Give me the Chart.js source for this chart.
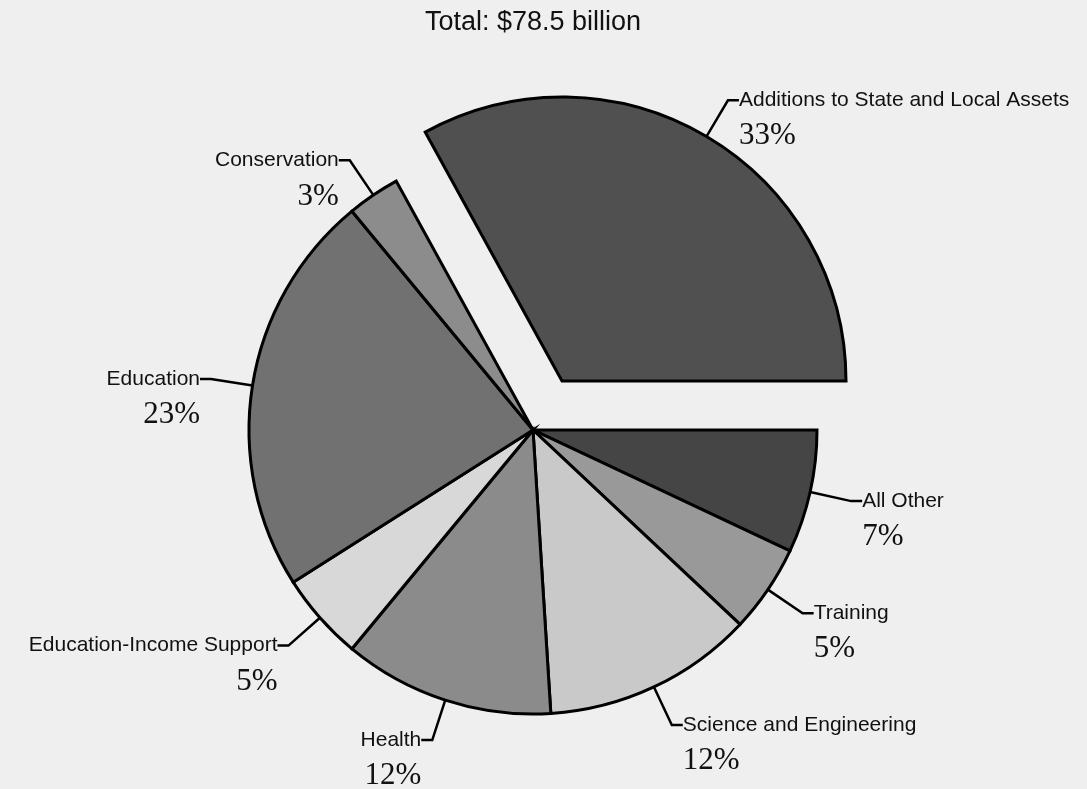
<!DOCTYPE html>
<html lang="en">
<head>
<meta charset="UTF-8">
<title>Total: $78.5 billion</title>
<script src="https://cdn.jsdelivr.net/npm/chart.js"></script>
<style>
  body { margin: 0; background: #efefef; }
  #wrap { width: 1087px; height: 789px; position: relative; }
</style>
</head>
<body>
<div id="wrap"><canvas id="pie"></canvas></div>
<script>
// slices go clockwise, starting at 3 o'clock
const categories = ['All Other', 'Training', 'Science and Engineering', 'Health',
    'Education-Income Support', 'Education', 'Conservation', 'Additions to State and Local Assets'];
const shares = [7, 5, 12, 12, 5, 23, 3, 33];
const fills = ['#454545', '#999999', '#c9c9c9', '#8b8b8b', '#d8d8d8', '#717171', '#8c8c8c', '#505050'];
const titleText = 'Total: $78.5 billion';
const pulledOut = 'Additions to State and Local Assets';
const pullDistance = 57;

// push the highlighted slice away from the centre
const explodeSlice = {
    id: 'explodeSlice',
    afterDatasetUpdate(chart, args) {
        args.meta.data.forEach((arc, i) => {
            if (chart.data.labels[i] !== pulledOut) return;
            const mid = (arc.startAngle + arc.endAngle) / 2;
            arc.x += Math.cos(mid) * pullDistance;
            arc.y += Math.sin(mid) * pullDistance;
        });
    }
};

// elbow leader lines with name + percent, and the title on top
const leaderLabels = {
    id: 'leaderLabels',
    afterDatasetsDraw(chart) {
        const ctx = chart.ctx;
        const arcs = chart.getDatasetMeta(0).data;
        ctx.save();
        ctx.strokeStyle = '#000';
        ctx.fillStyle = '#111';
        ctx.lineWidth = 2.5;
        ctx.lineJoin = 'miter';
        ctx.textBaseline = 'middle';
        arcs.forEach((arc, i) => {
            const mid = (arc.startAngle + arc.endAngle) / 2;
            const dx = Math.cos(mid), dy = Math.sin(mid);
            const side = dx >= 0 ? 1 : -1;
            const ex = arc.x + dx * arc.outerRadius;
            const ey = arc.y + dy * arc.outerRadius;
            const px = ex + dx * 42, py = ey + dy * 42;
            const tx = px + side * 11;
            ctx.beginPath();
            ctx.moveTo(ex, ey);
            ctx.lineTo(px, py);
            ctx.lineTo(tx, py);
            ctx.stroke();
            ctx.textAlign = side > 0 ? 'left' : 'right';
            ctx.font = '21px "Liberation Sans", Arial, sans-serif';
            ctx.fillText(chart.data.labels[i], tx, py);
            ctx.font = '31px "Liberation Serif", "Times New Roman", serif';
            ctx.fillText(shares[i] + '%', tx, py + 36);
        });
        const area = chart.chartArea;
        ctx.textAlign = 'center';
        ctx.font = '27px "Liberation Sans", Arial, sans-serif';
        ctx.fillText(titleText, (area.left + area.right) / 2, 23);
        ctx.restore();
    }
};

new Chart(document.getElementById('pie'), {
    type: 'pie',
    data: {
        labels: categories,
        datasets: [{
            data: shares,
            backgroundColor: fills,
            borderColor: '#000',
            borderWidth: 3,
            borderJoinStyle: 'miter',
            radius: 284
        }]
    },
    options: {
        responsive: true,
        maintainAspectRatio: false,
        animation: false,
        events: [],
        rotation: 90,
        layout: { padding: { top: 71, bottom: 0, left: 0, right: 21 } },
        plugins: {
            legend: { display: false },
            tooltip: { enabled: false },
            title: { display: false }
        }
    },
    plugins: [explodeSlice, leaderLabels]
});
</script>
</body>
</html>
